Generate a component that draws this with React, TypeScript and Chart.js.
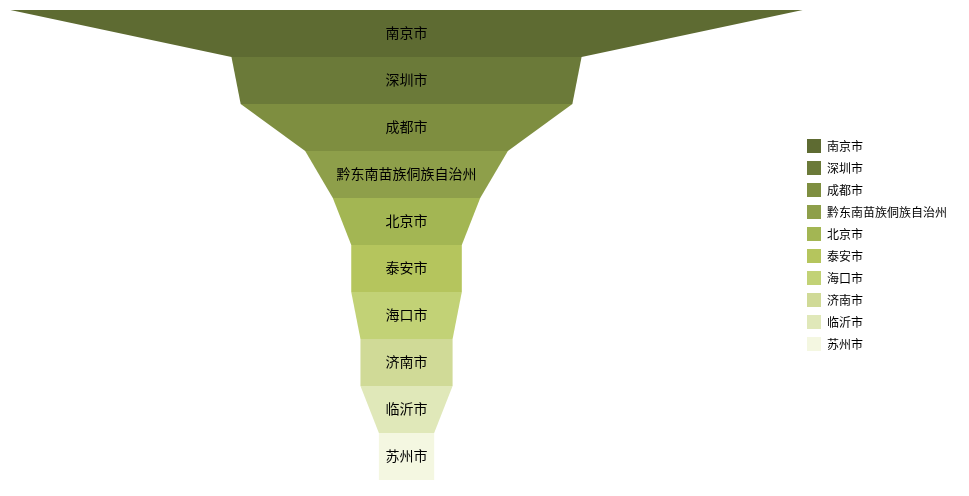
import React, { useEffect, useRef } from "react";
import { Chart, registerables } from "chart.js";

Chart.register(...registerables);

const categories = ["南京市", "深圳市", "成都市", "黔东南苗族侗族自治州", "北京市", "泰安市", "海口市", "济南市", "临沂市", "苏州市"];
const values = [43, 19, 18, 11, 8, 6, 6, 5, 5, 3];
const colors = ["#5e6b32", "#6b7a39", "#7e8e40", "#8e9f4a", "#a3b653", "#b5c55d", "#c2d276", "#d0da97", "#e0e8b9", "#f4f7e1"];

const FONT = '"Microsoft YaHei", "Noto Sans CJK SC", "Noto Sans", sans-serif';

const labelPlugin = {
  id: "funnelLabels",
  afterLayout(chart: any) {
    // let the wide top of the funnel reach past the legend gap without clipping
    chart.chartArea.right += 6;
  },
  afterDatasetsDraw(chart: any) {
    const { ctx, scales } = chart;
    ctx.save();
    ctx.font = `14px ${FONT}`;
    ctx.fillStyle = "#000";
    ctx.textAlign = "center";
    ctx.textBaseline = "middle";
    categories.forEach((name, i) => {
      const x = scales.x.getPixelForValue(0);
      const y = scales.y.getPixelForValue(i + 0.5) - 1;
      ctx.fillText(name, x, y);
    });
    ctx.restore();
  },
};

export default function App() {
  const ref = useRef<HTMLCanvasElement | null>(null);
  useEffect(() => {
    if (!ref.current) return;
    const datasets = categories.map((name, i) => {
      const top = values[i];
      const bottom = i + 1 < values.length ? values[i + 1] : values[i];
      return {
        label: name,
        data: [
          { x: -top / 2, y: i },
          { x: top / 2, y: i },
          { x: bottom / 2, y: i + 1 },
          { x: -bottom / 2, y: i + 1 },
        ],
        backgroundColor: colors[i],
        borderColor: colors[i],
        borderWidth: 0,
        showLine: false,
        pointRadius: 0,
        pointHoverRadius: 0,
        fill: "shape",
      };
    });
    const chart = new Chart(ref.current, {
      type: "line",
      data: { datasets } as any,
      plugins: [labelPlugin],
      options: {
        animation: false,
        responsive: true,
        maintainAspectRatio: false,
        layout: { padding: { left: 10, right: 12, top: 10, bottom: 16 } },
        scales: {
          x: { type: "linear", min: -21.52, max: 21.3, display: false },
          y: { type: "linear", min: 0, max: 10, reverse: true, display: false },
        },
        plugins: {
          legend: {
            position: "right",
            labels: {
              boxWidth: 14,
              boxHeight: 14,
              padding: 8,
              color: "#000",
              font: { size: 12, family: FONT },
            },
          },
          tooltip: { enabled: false },
        },
      } as any,
    });
    return () => chart.destroy();
  }, []);
  return (
    <div style={{ position: "fixed", left: 0, top: 0, width: 969, height: 496 }}>
      <canvas ref={ref} />
    </div>
  );
}
